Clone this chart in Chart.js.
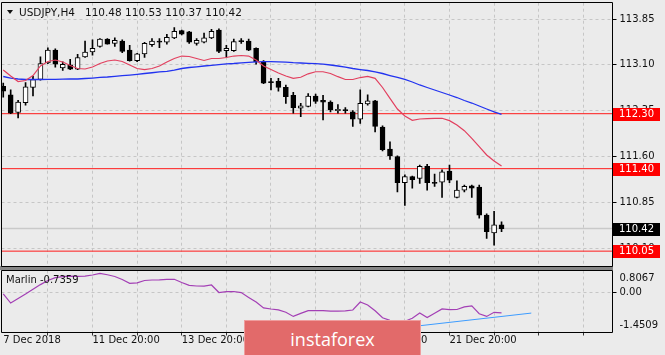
<!DOCTYPE html>
<html>
<head>
<meta charset="utf-8">
<title>USDJPY H4</title>
<script src="https://cdn.jsdelivr.net/npm/chart.js@4.4.1/dist/chart.umd.min.js"></script>
<style>
  html, body { margin:0; padding:0; background:#ebebeb; }
  #wrap { position:relative; width:665px; height:355px; overflow:hidden; background:#ebebeb; }
  canvas { position:absolute; left:0; }
  #priceCanvas { top:0; }
  #indCanvas { top:266px; }
  #sep { position:absolute; left:0; top:266px; width:613px; height:4px; background:#868686; }
  #tri { position:absolute; left:7px; top:9.5px; width:0; height:0; border-left:3.5px solid transparent; border-right:3.5px solid transparent; border-top:4px solid #111; }
  #title { position:absolute; left:19px; top:6px; font:10.5px "DejaVu Sans", sans-serif; line-height:12px; color:#111; white-space:pre; }
  #mlabel { position:absolute; left:6px; top:274px; font:10px "DejaVu Sans", sans-serif; line-height:12px; color:#111; white-space:pre; }
  #wm { position:absolute; left:244px; top:320px; width:175px; height:40px; background:#e26a6a; border:1px solid #ef9d9d; color:#fff; font:18px "Open Sans", sans-serif; text-align:center; line-height:36px; }
</style>
</head>
<body>
<div id="wrap">
  <div id="sep"></div>
  <canvas id="priceCanvas" width="665" height="268"></canvas>
  <canvas id="indCanvas" width="665" height="89"></canvas>
  <div id="tri"></div>
  <div id="title"></div>
  <div id="mlabel"></div>
  <div id="wm">instaforex</div>
</div>
<script>
// ---------- DATA ----------
const symbolName = 'USDJPY,H4';
const indicatorName = 'Marlin';

const opens  = [112.75,112.61,112.32,112.48,112.73,112.86,113.13,113.34,113.05,113.10,
                113.03,113.23,113.31,113.40,113.52,113.45,113.49,113.34,113.17,113.28,
                113.43,113.49,113.47,113.54,113.66,113.64,113.45,113.47,113.54,113.67,
                113.33,113.33,113.49,113.49,113.37,113.14,112.82,112.83,112.73,112.60,
                112.39,112.42,112.59,112.52,112.49,112.35,112.36,112.33,112.21,112.46,
                112.51,112.08,111.72,111.60,111.17,111.27,111.24,111.44,111.17,111.18,
                111.36,110.93,111.05,111.12,111.10,110.64,110.35,110.48];
const highs  = [112.80,112.69,112.52,112.81,112.91,113.23,113.38,113.36,113.15,113.19,
                113.27,113.49,113.51,113.53,113.53,113.54,113.51,113.42,113.29,113.47,
                113.53,113.53,113.60,113.71,113.67,113.65,113.53,113.62,113.68,113.69,
                113.42,113.52,113.53,113.52,113.38,113.17,112.88,112.88,112.77,112.65,
                112.47,112.63,112.62,112.60,112.51,112.45,112.40,112.35,112.69,112.61,
                112.52,112.10,111.84,111.61,111.30,111.28,111.46,111.47,111.31,111.38,
                111.46,111.20,111.13,111.13,111.13,110.66,110.70,110.53];
const lows   = [112.57,112.30,112.23,112.44,112.59,112.85,113.12,113.06,113.01,113.02,
                113.02,113.22,113.26,113.39,113.44,113.40,113.30,113.16,113.15,113.22,
                113.40,113.38,113.44,113.53,113.59,113.45,113.42,113.46,113.53,113.30,
                113.22,113.32,113.45,113.33,113.11,112.79,112.69,112.67,112.47,112.31,
                112.25,112.41,112.47,112.20,112.33,112.31,112.31,112.09,112.14,112.44,
                112.00,111.69,111.55,111.02,110.80,111.08,111.16,111.05,111.11,110.93,
                111.17,110.92,111.02,110.93,110.59,110.26,110.15,110.37];
const closes = [112.67,112.31,112.49,112.74,112.86,113.12,113.34,113.11,113.11,113.03,
                113.22,113.31,113.37,113.52,113.44,113.50,113.32,113.17,113.28,113.45,
                113.49,113.47,113.55,113.65,113.60,113.47,113.50,113.54,113.65,113.32,
                113.37,113.48,113.48,113.34,113.15,112.80,112.81,112.73,112.58,112.40,
                112.43,112.59,112.50,112.49,112.36,112.37,112.35,112.21,112.47,112.51,
                112.09,111.71,111.61,111.17,111.27,111.22,111.44,111.17,111.16,111.35,
                111.21,111.05,111.11,111.08,110.64,110.37,110.48,110.42];

const maFast = [113.015,112.917,112.827,112.843,112.925,113.081,113.154,113.179,113.146,113.089,
                113.040,113.032,113.064,113.122,113.163,113.179,113.154,113.097,113.040,113.023,
                113.040,113.081,113.146,113.204,113.244,113.236,113.204,113.171,113.204,113.204,
                113.220,113.244,113.253,113.244,113.179,113.081,113.023,112.966,112.917,112.879,
                112.896,112.953,112.987,112.987,112.958,112.906,112.860,112.860,112.892,112.912,
                112.879,112.729,112.552,112.377,112.262,112.192,112.213,112.218,112.225,112.225,
                112.186,112.115,112.022,111.897,111.760,111.624,111.526,111.444];
const maSlow = [112.909,112.884,112.868,112.860,112.860,112.860,112.863,112.863,112.865,112.868,
                112.868,112.876,112.884,112.893,112.901,112.912,112.922,112.933,112.945,112.958,
                112.970,112.983,112.994,113.015,113.040,113.056,113.068,113.081,113.092,113.105,
                113.114,113.122,113.133,113.141,113.150,113.154,113.154,113.150,113.143,113.135,
                113.130,113.125,113.120,113.110,113.097,113.081,113.064,113.040,113.023,113.007,
                112.983,112.958,112.925,112.893,112.860,112.819,112.770,112.729,112.688,112.647,
                112.606,112.565,112.516,112.475,112.426,112.377,112.331,112.290];

const marlin = [-0.046,-0.377,-0.213,-0.049,0.126,0.293,0.443,0.548,0.585,0.603,
                0.592,0.599,0.643,0.705,0.652,0.588,0.479,0.341,0.355,0.443,
                0.461,0.468,0.486,0.486,0.370,0.264,0.242,0.235,0.279,0.005,
                0.035,0.042,0.002,-0.173,-0.340,-0.555,-0.595,-0.625,-0.712,-0.865,
                -0.756,-0.654,-0.654,-0.654,-0.670,-0.676,-0.665,-0.632,-0.340,-0.450,
                -0.661,-0.916,-1.007,-1.069,-1.040,-0.930,-0.741,-0.909,-0.752,-0.592,
                -0.621,-0.614,-0.519,-0.482,-0.767,-0.865,-0.716,-0.7359];

const trendIdx = [56, 71];
const trendVal = [-1.205, -0.744];

const levelValues = [112.30, 111.40, 110.05];
const priceTicks = [113.85, 113.10, 112.35, 111.60, 110.85, 110.10];
const indTickLabels = ['0.8067', '0.00', '-1.4509'];
const gridIdx = [0,6,12,18,24,30,36,42,48,54,60,66,72,78];
const xLabelIdx = [0, 12, 24, 36, 48, 60];
const xLabelText = ['7 Dec 2018', '11 Dec 20:00', '13 Dec 20:00', '17 Dec 20:00', '19 Dec 20:00', '21 Dec 20:00'];

// ---------- view ranges ----------
const X_MIN = -0.235, X_MAX = 81.92;
const PRICE_MIN = 109.807, PRICE_MAX = 114.117;
const IND_MIN = -1.4509, IND_MAX = 0.8067;

const n = closes.length;
const lastClose = closes[n - 1];
document.getElementById('title').textContent =
  symbolName + '   ' + opens[n-1].toFixed(2) + ' ' + highs[n-1].toFixed(2) + ' ' + lows[n-1].toFixed(2) + ' ' + lastClose.toFixed(2);
document.getElementById('mlabel').textContent = indicatorName + ' ' + marlin[n-1].toFixed(4);

Chart.defaults.font.family = '"DejaVu Sans", sans-serif';
Chart.defaults.font.size = 10;
Chart.defaults.color = '#111';
Chart.defaults.animation = false;

const idx = closes.map((_, i) => i);
const wickData = idx.map(i => ({ x: i, y: [lows[i], highs[i]] }));
const bodyData = idx.map(i => ({ x: i, y: [opens[i], closes[i]] }));
const bodyColors = idx.map(i => closes[i] >= opens[i] ? '#ffffff' : '#000000');
const hline = v => [{ x: X_MIN, y: v }, { x: X_MAX, y: v }];

const GRID = '#c6c6c6';
const frame = {
  id: 'frame',
  afterDraw(chart, args, opts) {
    const a = chart.chartArea, ctx = chart.ctx;
    const l = Math.floor(a.left) + 0.5, r = Math.floor(a.right) + 0.5;
    const t = Math.floor(a.top) + 0.5, b = Math.floor(a.bottom) + 0.5;
    ctx.save();
    ctx.strokeStyle = '#000'; ctx.lineWidth = 1;
    ctx.beginPath();
    ctx.moveTo(l, b); ctx.lineTo(l, t); ctx.lineTo(r, t); ctx.lineTo(r, b);
    if (opts && opts.bottom) ctx.lineTo(l, b);
    ctx.stroke();
    ctx.restore();
  }
};

const priceTags = {
  id: 'priceTags',
  afterDraw(chart) {
    const y = chart.scales.y, ctx = chart.ctx, a = chart.chartArea;
    const tag = (v, bg) => {
      const py = Math.round(y.getPixelForValue(v));
      ctx.fillStyle = bg;
      ctx.fillRect(Math.floor(a.right) + 1, py - 6, 47, 13);
      ctx.fillStyle = '#ffffff';
      ctx.font = '10px "DejaVu Sans", sans-serif';
      ctx.textBaseline = 'middle';
      ctx.textAlign = 'left';
      ctx.fillText(v.toFixed(2), Math.floor(a.right) + 7, py + 0.5);
    };
    ctx.save();
    levelValues.forEach(v => tag(v, '#ff0000'));
    tag(lastClose, '#000000');
    ctx.restore();
  }
};

const xGridColor = c => (c.tick && c.tick.value === 0) ? 'rgba(0,0,0,0)' : GRID;
const fitY = s => { s.width = 52.5; s.paddingTop = 0; s.paddingBottom = 0; };

new Chart(document.getElementById('priceCanvas'), {
  type: 'bar',
  data: {
    datasets: [
      { type: 'line', data: hline(lastClose), borderColor: '#c9c9c9', borderWidth: 1.5, pointRadius: 0, order: 9 },
      ...levelValues.map(v => ({ type: 'line', data: hline(v), borderColor: '#ff1a1a', borderWidth: 1, pointRadius: 0, order: 8 })),
      { type: 'bar', data: wickData, backgroundColor: '#000000', barThickness: 1, grouped: false, order: 4 },
      { type: 'bar', data: bodyData, backgroundColor: bodyColors, borderColor: '#000000', borderWidth: 1,
        borderSkipped: false, barThickness: 5, grouped: false, minBarLength: 1, order: 3 },
      { type: 'line', data: idx.map(i => ({ x: i, y: maSlow[i] })), borderColor: '#2233f0', borderWidth: 1.3, pointRadius: 0, order: 2 },
      { type: 'line', data: idx.map(i => ({ x: i, y: maFast[i] })), borderColor: '#e2405f', borderWidth: 1.2, pointRadius: 0, order: 1 }
    ]
  },
  options: {
    responsive: false, maintainAspectRatio: false, devicePixelRatio: 1,
    layout: { padding: { left: 1.5, right: 0, top: 2.7, bottom: 2 } },
    plugins: { legend: { display: false }, tooltip: { enabled: false }, frame: { bottom: true } },
    scales: {
      x: {
        type: 'linear', min: X_MIN, max: X_MAX, offset: false,
        afterBuildTicks: s => { s.ticks = gridIdx.map(v => ({ value: v })); },
        afterFit: s => { s.height = 0; s.paddingLeft = 0; s.paddingRight = 0; },
        ticks: { display: false },
        grid: { offset: false, color: xGridColor, lineWidth: 1, drawTicks: false },
        border: { display: false, dash: [3, 3] }
      },
      y: {
        position: 'right', min: PRICE_MIN, max: PRICE_MAX,
        afterBuildTicks: s => { s.ticks = priceTicks.map(v => ({ value: v })); },
        afterFit: fitY,
        ticks: { padding: 3, callback: v => Number(v).toFixed(2), color: '#111' },
        grid: { color: GRID, lineWidth: 1, drawTicks: true, tickLength: 4, tickColor: '#000', tickBorderDash: [] },
        border: { display: false, dash: [3, 3] }
      }
    }
  },
  plugins: [frame, priceTags]
});

new Chart(document.getElementById('indCanvas'), {
  type: 'line',
  data: {
    datasets: [
      { data: trendIdx.map((x, k) => ({ x: x, y: trendVal[k] })), borderColor: '#3d9cff', borderWidth: 1, pointRadius: 0, order: 2 },
      { data: idx.map(i => ({ x: i, y: marlin[i] })), borderColor: '#a33fb5', borderWidth: 1.2, pointRadius: 0, order: 1 }
    ]
  },
  options: {
    responsive: false, maintainAspectRatio: false, devicePixelRatio: 1,
    layout: { padding: { left: 1.5, right: 0, top: 4.5, bottom: 0 } },
    plugins: { legend: { display: false }, tooltip: { enabled: false }, frame: { bottom: true } },
    scales: {
      x: {
        type: 'linear', min: X_MIN, max: X_MAX, offset: false,
        afterBuildTicks: s => { s.ticks = gridIdx.map(v => ({ value: v })); },
        afterFit: s => { s.height = 22.5; s.paddingLeft = 0; s.paddingRight = 0; },
        ticks: {
          autoSkip: false, maxRotation: 0, minRotation: 0, align: 'start', padding: -1.5, color: '#111',
          callback: v => { const k = xLabelIdx.indexOf(v); return k >= 0 ? xLabelText[k] : ''; }
        },
        grid: { offset: false, color: xGridColor, lineWidth: 1, drawTicks: true, tickLength: 3,
                tickColor: c => (c.tick && c.tick.value === 0) ? 'rgba(0,0,0,0)' : '#333', tickBorderDash: [] },
        border: { display: false, dash: [3, 3] }
      },
      y: {
        position: 'right', min: IND_MIN, max: IND_MAX,
        afterBuildTicks: s => { s.ticks = [{ value: IND_MAX - 0.28 }, { value: 0 }, { value: IND_MIN + 0.26 }]; },
        afterFit: fitY,
        ticks: { padding: 3, color: '#111', callback: (v, i) => indTickLabels[i] },
        grid: { color: c => (c.tick && c.tick.value === 0) ? GRID : 'rgba(0,0,0,0)', lineWidth: 1,
                drawTicks: true, tickLength: 4,
                tickColor: c => (c.tick && c.tick.value === 0) ? '#000' : 'rgba(0,0,0,0)', tickBorderDash: [] },
        border: { display: false, dash: [3, 3] }
      }
    }
  },
  plugins: [frame]
});
</script>
</body>
</html>
